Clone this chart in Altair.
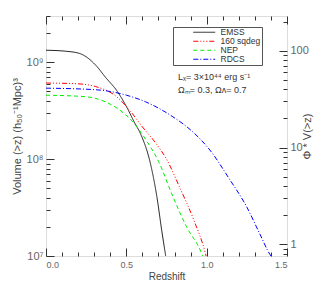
import altair as alt
import pandas as pd

# ---- data ----
series_names = ["EMSS", "160 sqdeg", "NEP", "RDCS"]
series_colors = ["#222222", "#ff0000", "#00ee00", "#0000ff"]
series_dashes = [[1, 0], [5, 2, 1, 2, 1, 2, 1, 2], [4, 3], [5, 2, 1, 2]]

z_emss = [0.0, 0.12, 0.21, 0.31, 0.37, 0.44, 0.50, 0.55, 0.59, 0.65, 0.69, 0.72, 0.745, 0.76]
v_emss = [1.33e9, 1.30e9, 1.23e9, 9.3e8, 7.0e8, 5.1e8, 3.5e8, 2.4e8, 1.8e8, 9.0e7, 4.1e7, 1.85e7, 1.0e7, 7.0e6]

z_160 = [0.0, 0.19, 0.31, 0.44, 0.52, 0.60, 0.685, 0.75, 0.83, 0.92, 0.99, 1.0]
v_160 = [6.1e8, 6.0e8, 5.6e8, 4.4e8, 3.2e8, 2.15e8, 1.45e8, 1.0e8, 5.2e7, 2.35e7, 1.1e7, 9.5e6]

z_nep = [0.0, 0.25, 0.37, 0.46, 0.54, 0.62, 0.70, 0.79, 0.875, 0.965, 0.98]
v_nep = [4.57e8, 4.4e8, 3.9e8, 3.2e8, 2.43e8, 1.6e8, 9.5e7, 4.1e7, 2.0e7, 1.1e7, 9.5e6]

z_rdcs = [0.0, 0.31, 0.50, 0.62, 0.79, 0.90, 1.02, 1.145, 1.25, 1.33, 1.395, 1.41]
v_rdcs = [5.4e8, 5.2e8, 4.57e8, 3.9e8, 2.73e8, 2.0e8, 1.24e8, 6.1e7, 3.2e7, 1.7e7, 1.03e7, 9.5e6]

x_domain = [0.0, 1.5]
y_domain = [1e7, 3e9]
phi_factor = 7.6e-8  # right axis = Phi* x Volume
y2_domain = [y_domain[0] * phi_factor, y_domain[1] * phi_factor]

x_major = [0.0, 0.5, 1.0, 1.5]
x_minor = [0.1, 0.2, 0.3, 0.4, 0.6, 0.7, 0.8, 0.9, 1.1, 1.2, 1.3, 1.4]
y_major = [1e7, 1e8, 1e9]
y_minor = [2e7, 3e7, 4e7, 5e7, 6e7, 7e7, 8e7, 9e7,
           2e8, 3e8, 4e8, 5e8, 6e8, 7e8, 8e8, 9e8, 2e9, 3e9]
y2_major = [1, 10, 100]
y2_minor = [0.8, 0.9, 2, 3, 4, 5, 6, 7, 8, 9, 20, 30, 40, 50, 60, 70, 80, 90, 200]

note_lx = "Lₓ= 3×10⁴⁴ erg s⁻¹"
note_om = "Ωₘ= 0.3, Ωᴧ= 0.7"

rows = []
for name, zs, vs in [("EMSS", z_emss, v_emss), ("160 sqdeg", z_160, v_160),
                     ("NEP", z_nep, v_nep), ("RDCS", z_rdcs, v_rdcs)]:
    for i, (z, v) in enumerate(zip(zs, vs)):
        rows.append({"survey": name, "z": z, "V": v, "order": i})
df = pd.DataFrame(rows)

FONT = "Liberation Sans"
TICK = "#333333"
LABEL = "#666666"

common_axis = dict(domain=False, grid=False, tickColor=TICK, tickWidth=1,
                   labelFont=FONT, labelColor=LABEL,
                   titleFont=FONT, titleColor="#444444",
                   titleFontWeight="normal")

base = alt.Chart(df)

xs = alt.Scale(domain=x_domain, nice=False, zero=False)
ys = alt.Scale(type="log", domain=y_domain, nice=False, zero=False)
ys2 = alt.Scale(type="log", domain=y2_domain, nice=False, zero=False)

lines = base.mark_line(clip=True, strokeWidth=1, interpolate="monotone").encode(
    x=alt.X("z:Q", scale=xs,
            axis=alt.Axis(orient="bottom", values=x_major, format=".1f",
                          tickSize=8, offset=-8, labelPadding=4, labelFontSize=9,
                          title="Redshift", titlePadding=2, titleFontSize=10,
                          **common_axis)),
    y=alt.Y("V:Q", scale=ys,
            axis=alt.Axis(orient="left", values=y_major, tickSize=8, offset=-8,
                          labelPadding=3, labelFontSize=11,
                          labelExpr="datum.value == 1e9 ? '10⁹' : datum.value == 1e8 ? '10⁸' : '10⁷'",
                          title="Volume (>z) (h₅₀⁻¹Mpc)³", titlePadding=4,
                          titleFontSize=11, **common_axis)),
    color=alt.Color("survey:N",
                    scale=alt.Scale(domain=series_names, range=series_colors),
                    legend=alt.Legend(title=None, orient="none", legendX=127, legendY=11,
                                      strokeColor="#555555",
                                      fillColor="white", padding=1, rowPadding=0,
                                      symbolType="M-4,0H4", symbolSize=30,
                                      symbolStrokeWidth=1, symbolOffset=26,
                                      labelFont=FONT, labelFontSize=8.5,
                                      labelColor="#333333", labelOffset=12)),
    strokeDash=alt.StrokeDash("survey:N",
                              scale=alt.Scale(domain=series_names, range=series_dashes),
                              legend=alt.Legend(title=None, orient="none", legendX=127, legendY=11)),
    order="order:Q",
)

ghost = dict(opacity=0, clip=True)

minor_lb = base.mark_point(**ghost).encode(
    x=alt.X("z:Q", scale=xs,
            axis=alt.Axis(orient="bottom", values=x_minor, tickSize=4, offset=-4,
                          labels=False, title=None, **common_axis)),
    y=alt.Y("V:Q", scale=ys,
            axis=alt.Axis(orient="left", values=y_minor, tickSize=4, offset=-4,
                          labels=False, title=None, **common_axis)),
)

major_rt = base.mark_point(**ghost).encode(
    x=alt.X("z:Q", scale=xs,
            axis=alt.Axis(orient="top", values=x_major, tickSize=8, offset=-8,
                          labels=False, title=None, **common_axis)),
    y=alt.Y("V:Q", scale=ys2,
            axis=alt.Axis(orient="right", values=y2_major, tickSize=8, offset=-8,
                          labelPadding=3, labelFontSize=11, format="d",
                          title="Φ * V(>z)", titleAngle=270, titlePadding=4,
                          titleFontSize=11, **common_axis)),
)

minor_rt = base.mark_point(**ghost).encode(
    x=alt.X("z:Q", scale=xs,
            axis=alt.Axis(orient="top", values=x_minor, tickSize=4, offset=-4,
                          labels=False, title=None, **common_axis)),
    y=alt.Y("V:Q", scale=ys2,
            axis=alt.Axis(orient="right", values=y2_minor, tickSize=4, offset=-4,
                          labels=False, title=None, **common_axis)),
)

note1 = alt.Chart(pd.DataFrame({"t": [note_lx]})).mark_text(
    align="left", baseline="middle", font=FONT, fontSize=9, color="#333333"
).encode(text="t:N", x=alt.value(132), y=alt.value(61))

note2 = alt.Chart(pd.DataFrame({"t": [note_om]})).mark_text(
    align="left", baseline="middle", font=FONT, fontSize=9, color="#333333"
).encode(text="t:N", x=alt.value(132), y=alt.value(74))

chart = alt.layer(lines, minor_lb, major_rt, minor_rt, note1, note2).resolve_scale(
    x="independent", y="independent"
).properties(
    width=241, height=240,
    autosize=alt.AutoSizeParams(type="none"),
    padding={"left": 38, "top": 8, "right": 32, "bottom": 25},
).configure_view(stroke="#333333", strokeWidth=1).configure_legend(
    strokeWidth=1.5
).configure(background="white")

chart.save("out.html", embed_options={"renderer": "svg", "actions": False})
